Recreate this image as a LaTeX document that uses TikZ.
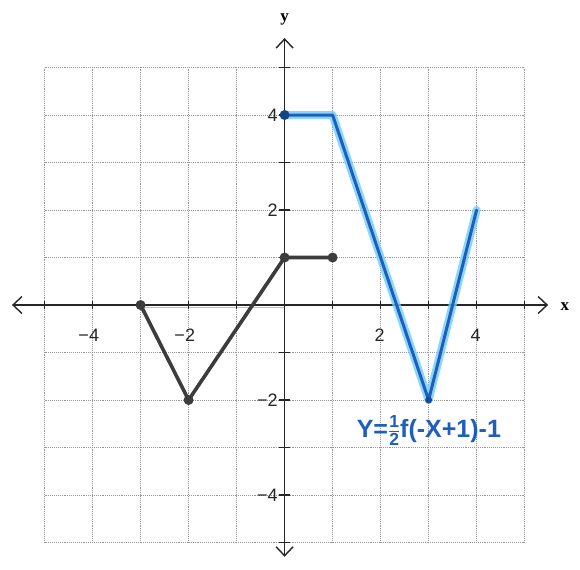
\documentclass[tikz,border=0pt]{standalone}
\usepackage{fontspec}
\setmainfont{Liberation Sans}
\newfontfamily\axfont{Liberation Serif}
\usetikzlibrary{arrows.meta}
\definecolor{gridc}{RGB}{150,150,150}
\definecolor{darkg}{RGB}{60,60,62}
\definecolor{blueln}{RGB}{30,95,190}
\definecolor{glow}{RGB}{110,205,245}
\tikzset{
  gridln/.style={gridc, densely dotted, line width=0.9pt},
  axisln/.style={line width=1.6pt, black!85},
  chev/.style={-{Straight Barb[length=9pt,width=17pt,line width=1.4pt]}},
  ticklbl/.style={font=\fontsize{18}{18}\selectfont, text=black!85, inner sep=1pt},
  blk/.style={darkg, line width=3.6pt, line join=round, line cap=round},
  dotb/.style={circle, fill=darkg, inner sep=0pt, minimum size=10pt},
  glowln/.style={glow, line width=8pt, line join=round, line cap=round, opacity=0.8},
  bluel/.style={blueln, line width=3pt, line join=round, line cap=round},
}
\begin{document}
\begin{tikzpicture}[x=48pt, y=47.5pt]
\useasboundingbox (-5.929,-5.558) rectangle (6.154,6.421);
\fill[white] (-5.929,-5.558) rectangle (6.154,6.421);
% grid
\foreach \i in {-5,...,5} {
  \draw[gridln] (\i,-5) -- (\i,5);
  \draw[gridln] (-5,\i) -- (5,\i);
}
% axes
\coordinate (xl) at (-5.68,0);
\coordinate (xr) at (5.49,0);
\coordinate (yb) at (0,-5.3);
\coordinate (yt) at (0,5.62);
\draw[red!60, line width=0.5pt, opacity=0.6] (-3,-0.04) -- (0,-0.04);
\draw[axisln, chev] (0,0) -- (xr);
\draw[axisln, chev] (0,0) -- (xl);
\draw[axisln, chev] (0,0) -- (yt);
\draw[axisln, chev] (0,0) -- (yb);
\node (xlab) at (5.84,-0.03) {\axfont\bfseries\fontsize{17}{17}\selectfont x};
\node (ylab) at (0,6.02) {\axfont\bfseries\fontsize{17}{17}\selectfont y};
% ticks
\foreach \i in {-5,...,5} {
  \draw[line width=1.4pt, black!85] (\i,-0.09) -- (\i,0.09);
  \draw[line width=1.4pt, black!85] (-0.12,\i) -- (0.12,\i);
}
% tick labels
\node[ticklbl] (xtm4) at (-4.08,-0.64) {−4};
\node[ticklbl] (xtm2) at (-2.08,-0.64) {−2};
\node[ticklbl] (xt2) at (1.98,-0.64) {2};
\node[ticklbl] (xt4) at (3.98,-0.64) {4};
\node[ticklbl, anchor=east] (yt4) at (-0.12,4) {4};
\node[ticklbl, anchor=east] (yt2) at (-0.12,2) {2};
\node[ticklbl, anchor=east] (ytm2) at (-0.12,-2) {−2};
\node[ticklbl, anchor=east] (ytm4) at (-0.12,-4) {−4};
% black graph
\node[dotb] (a) at (-3,0) {};
\node[dotb] (b) at (-2,-2) {};
\node[dotb] (c) at (0,1) {};
\node[dotb] (d) at (1,1) {};
\draw[blk] (a.center) -- (b.center) -- (c.center) -- (d.center);
% blue graph
\coordinate (p) at (0,4);
\coordinate (q) at (1,4);
\coordinate (r) at (3,-2);
\coordinate (s) at (4,2);
\draw[glowln] (p) -- (q) -- (r) -- (s);
\draw[bluel] (p) -- (q) -- (r) -- (s);
\fill[blueln!70!black] (p) circle (5pt);
\fill[blueln!80!black] (r) circle (3.5pt);
\node[text=blueln, font=\fontsize{25}{25}\selectfont\bfseries, anchor=west, inner sep=0pt] (lbl) at (1.5,-2.64)
  {Y=$\mathbf{\frac{1}{2}}$f(-X+1)-1};
\end{tikzpicture}
\end{document}
